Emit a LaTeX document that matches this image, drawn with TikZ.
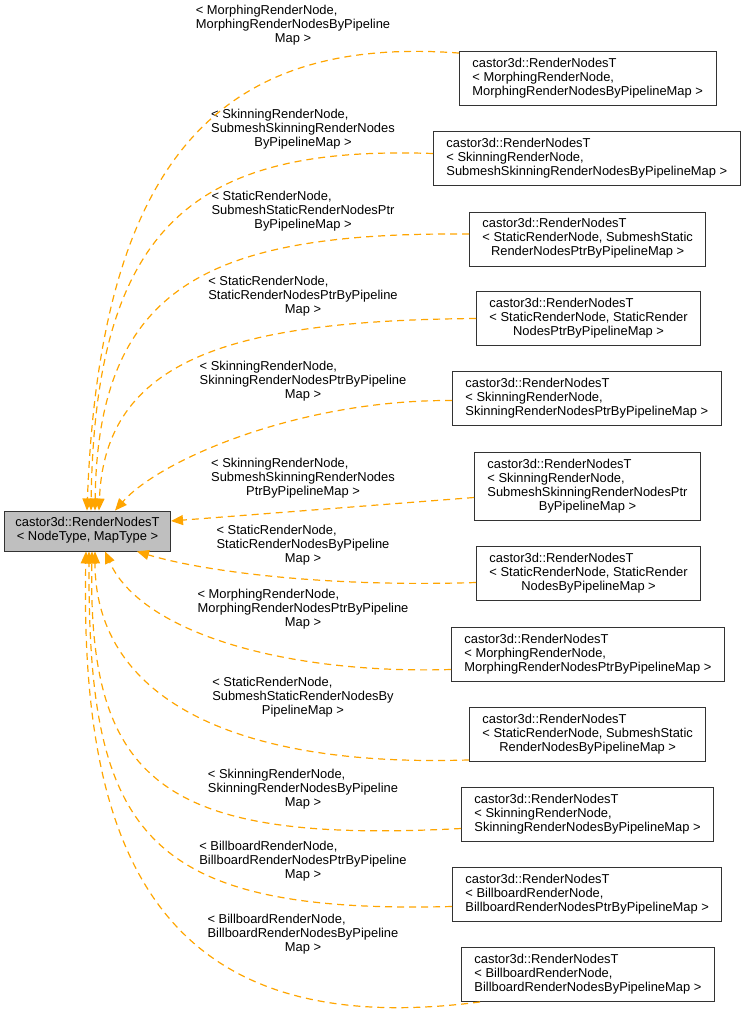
\documentclass[tikz,border=0pt]{standalone}
\usepackage{fontspec}
\setmainfont{Liberation Sans}
\usetikzlibrary{positioning, arrows.meta, calc}
\definecolor{deporange}{RGB}{255,165,0}
\definecolor{basegray}{RGB}{191,191,191}
\newcommand{\rtext}[1]{\begin{tabular}{@{}l@{}}#1\end{tabular}}
\newcommand{\lastln}[1]{\multicolumn{1}{@{}c@{}}{#1}}

\begin{document}
\begin{tikzpicture}[x=1pt, y=-1pt,
    cls/.style={draw=black!80, line width=0.9pt, inner xsep=13pt, inner ysep=6pt, anchor=west, font=\fontsize{12.9}{14}\selectfont},
    lbl/.style={inner sep=0pt, font=\fontsize{12.9}{14}\selectfont},
    dep/.style={draw=deporange, line width=1.2pt, dash pattern=on 7pt off 5pt, -{Triangle[length=12pt, width=10pt]}}]
    \useasboundingbox (0,0) rectangle (747,1018);
    \node[cls, anchor=center, fill=basegray, inner xsep=11pt] (base) at (87.5,531) {\rtext{castor3d::RenderNodesT\\\lastln{< NodeType, MapType >}}};

    \node[cls] (r1) at (459,78.5) {\rtext{castor3d::RenderNodesT\\< MorphingRenderNode,\\\lastln{MorphingRenderNodesByPipelineMap >}}};
    \node[cls] (r2) at (433,158.5) {\rtext{castor3d::RenderNodesT\\< SkinningRenderNode,\\\lastln{SubmeshSkinningRenderNodesByPipelineMap >}}};
    \node[cls] (r3) at (469,239) {\rtext{castor3d::RenderNodesT\\< StaticRenderNode, SubmeshStatic\\\lastln{RenderNodesPtrByPipelineMap >}}};
    \node[cls] (r4) at (476,318.5) {\rtext{castor3d::RenderNodesT\\< StaticRenderNode, StaticRender\\\lastln{NodesPtrByPipelineMap >}}};
    \node[cls] (r5) at (452,398.5) {\rtext{castor3d::RenderNodesT\\< SkinningRenderNode,\\\lastln{SkinningRenderNodesPtrByPipelineMap >}}};
    \node[cls] (r6) at (474,486.5) {\rtext{castor3d::RenderNodesT\\< SkinningRenderNode,\\SubmeshSkinningRenderNodesPtr\\\lastln{ByPipelineMap >}}};
    \node[cls] (r7) at (476,573.5) {\rtext{castor3d::RenderNodesT\\< StaticRenderNode, StaticRender\\\lastln{NodesByPipelineMap >}}};
    \node[cls] (r8) at (451,654.5) {\rtext{castor3d::RenderNodesT\\< MorphingRenderNode,\\\lastln{MorphingRenderNodesPtrByPipelineMap >}}};
    \node[cls] (r9) at (469,734.5) {\rtext{castor3d::RenderNodesT\\< StaticRenderNode, SubmeshStatic\\\lastln{RenderNodesByPipelineMap >}}};
    \node[cls] (r10) at (461,814.5) {\rtext{castor3d::RenderNodesT\\< SkinningRenderNode,\\\lastln{SkinningRenderNodesByPipelineMap >}}};
    \node[cls] (r11) at (452,894.5) {\rtext{castor3d::RenderNodesT\\< BillboardRenderNode,\\\lastln{BillboardRenderNodesPtrByPipelineMap >}}};
    \node[cls] (r12) at (461,974.5) {\rtext{castor3d::RenderNodesT\\< BillboardRenderNode,\\\lastln{BillboardRenderNodesByPipelineMap >}}};

    \node[lbl] (t1) at (293,26) {\rtext{< MorphingRenderNode,\\MorphingRenderNodesByPipeline\\\lastln{Map >}}};
    \node[lbl] (t2) at (303,130) {\rtext{< SkinningRenderNode,\\SubmeshSkinningRenderNodes\\\lastln{ByPipelineMap >}}};
    \node[lbl] (t3) at (303,212) {\rtext{< StaticRenderNode,\\SubmeshStaticRenderNodesPtr\\\lastln{ByPipelineMap >}}};
    \node[lbl] (t4) at (303,297) {\rtext{< StaticRenderNode,\\StaticRenderNodesPtrByPipeline\\\lastln{Map >}}};
    \node[lbl] (t5) at (303,382) {\rtext{< SkinningRenderNode,\\SkinningRenderNodesPtrByPipeline\\\lastln{Map >}}};
    \node[lbl] (t6) at (303,479) {\rtext{< SkinningRenderNode,\\SubmeshSkinningRenderNodes\\\lastln{PtrByPipelineMap >}}};
    \node[lbl] (t7) at (303,546) {\rtext{< StaticRenderNode,\\StaticRenderNodesByPipeline\\\lastln{Map >}}};
    \node[lbl] (t8) at (303,610) {\rtext{< MorphingRenderNode,\\MorphingRenderNodesPtrByPipeline\\\lastln{Map >}}};
    \node[lbl] (t9) at (303,698) {\rtext{< StaticRenderNode,\\SubmeshStaticRenderNodesBy\\\lastln{PipelineMap >}}};
    \node[lbl] (t10) at (303,790) {\rtext{< SkinningRenderNode,\\SkinningRenderNodesByPipeline\\\lastln{Map >}}};
    \node[lbl] (t11) at (303,862) {\rtext{< BillboardRenderNode,\\BillboardRenderNodesPtrByPipeline\\\lastln{Map >}}};
    \node[lbl] (t12) at (303,935) {\rtext{< BillboardRenderNode,\\BillboardRenderNodesByPipeline\\\lastln{Map >}}};

    \draw[dep] ([yshift=-2pt]r1.north west) .. controls +(-239,-18) and +(13,-351) .. ([xshift=-0.5pt]base.north);
    \draw[dep] ([yshift=5pt]r2.west) .. controls +(-233,-8) and +(4,-291) .. ([xshift=3.5pt]base.north);
    \draw[dep] ([yshift=5pt]r3.west) .. controls +(-259,-2) and +(3,-226) .. ([xshift=7.5pt]base.north);
    \draw[dep] (r4.west) .. controls +(-246,2) and +(6,-151) .. ([xshift=11.5pt]base.north);
    \draw[dep] ([yshift=-2pt]r5.west) .. controls +(-152,-1) and +(45,-51) .. ([xshift=27.5pt]base.north);
    \draw[dep] ([yshift=-11pt]r6.west) -- ([yshift=10pt]base.east);
    \draw[dep] ([yshift=-9pt]r7.west) .. controls +(-156,5) and +(63,19) .. ([xshift=49.5pt]base.south);
    \draw[dep] ([yshift=-15pt]r8.west) .. controls +(-171,5) and +(35,79) .. ([xshift=17.5pt]base.south);
    \draw[dep] ([yshift=2pt]r9.south west) .. controls +(-249,8) and +(0,139) .. ([xshift=7.5pt]base.south);
    \draw[dep] ([yshift=-14pt]r10.west) .. controls +(-301,16) and +(-4,229) .. ([xshift=4.5pt]base.south);
    \draw[dep] ([yshift=-12pt]r11.west) .. controls +(-312,8) and +(-1,279) .. ([xshift=1.5pt]base.south);
    \draw[dep] ([xshift=19pt]r12.south west) .. controls +(-330,43) and +(-6,289) .. ([xshift=-1.5pt]base.south);
\end{tikzpicture}
\end{document}
